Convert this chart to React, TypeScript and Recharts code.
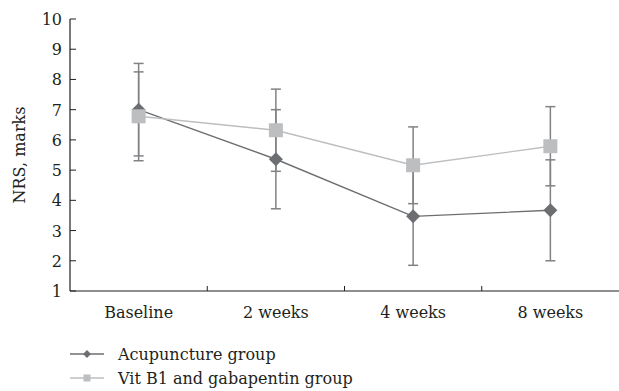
import { LineChart, Line, XAxis, YAxis, ErrorBar, Legend, Label } from "recharts";

const categories = ["Baseline", "2 weeks", "4 weeks", "8 weeks"];
const acupuncture = [7.0, 5.36, 3.47, 3.67];
const acupunctureSd = [1.53, 1.64, 1.62, 1.67];
const vitB1 = [6.78, 6.32, 5.16, 5.79];
const vitB1Sd = [1.47, 1.36, 1.27, 1.31];
const yTicks = [1, 2, 3, 4, 5, 6, 7, 8, 9, 10];
const xTicks = [0.5, 1, 1.5, 2, 2.5, 3, 3.5];

const FONT = "'DejaVu Serif', serif";
const INK = "#231f20";
const DARK = "#6d6e71";
const LIGHT = "#bcbec0";
const BAR = "#808285";

const data = categories.map((name, i) => ({
  x: i + 0.5,
  name,
  acu: acupuncture[i],
  acuErr: acupunctureSd[i],
  vit: vitB1[i],
  vitErr: vitB1Sd[i],
}));

const diamond = (cx: number, cy: number, r: number, fill: string, key?: any) => (
  <polygon key={key} points={`${cx},${cy - r} ${cx + r},${cy} ${cx},${cy + r} ${cx - r},${cy}`} fill={fill} />
);

const square = (cx: number, cy: number, r: number, fill: string, key?: any) => (
  <rect key={key} x={cx - r} y={cy - r} width={r * 2} height={r * 2} fill={fill} />
);

const XTick = ({ x, y, payload }: any) => {
  const v = payload.value;
  if (Number.isInteger(v)) {
    return <line x1={x} x2={x} y1={y} y2={y - 5} stroke={INK} strokeWidth={1} />;
  }
  return (
    <text x={x} y={y + 27} textAnchor="middle" fontFamily={FONT} fontSize={16} fill={INK}>
      {categories[v - 0.5]}
    </text>
  );
};

const YTick = ({ x, y, payload }: any) => (
  <g>
    <line x1={x} x2={x + 6} y1={y} y2={y} stroke={INK} strokeWidth={1} />
    <text x={x - 8} y={y + 6} textAnchor="end" fontFamily={FONT} fontSize={16} fill={INK}>
      {payload.value}
    </text>
  </g>
);

const legendItems = [
  { label: "Acupuncture group", color: DARK, shape: "diamond" },
  { label: "Vit B1 and gabapentin group", color: LIGHT, shape: "square" },
];

const LegendContent = () => (
  <div style={{ paddingLeft: 70, paddingTop: 21 }}>
    {legendItems.map((it) => (
      <div key={it.label} style={{ display: "flex", alignItems: "center", height: 24 }}>
        <svg width={48} height={14}>
          <line x1={0} x2={34} y1={7} y2={7} stroke={it.color} strokeWidth={1.5} />
          {it.shape === "diamond" ? diamond(17, 7, 4, it.color) : square(17, 7, 3.5, it.color)}
        </svg>
        <span style={{ fontFamily: FONT, fontSize: 16, color: INK }}>{it.label}</span>
      </div>
    ))}
  </div>
);

export default function App() {
  return (
    <div style={{ position: "absolute", left: 0, top: 0, background: "#fff" }}>
      <LineChart width={619} height={391} data={data} margin={{ top: 19, right: 0, left: 0, bottom: 0 }}>
        <XAxis
          dataKey="x"
          type="number"
          domain={[0, 4]}
          ticks={xTicks}
          interval={0}
          tick={<XTick />}
          tickLine={false}
          tickSize={0}
          tickMargin={0}
          height={30}
          axisLine={{ stroke: INK, strokeWidth: 1.2 }}
        />
        <YAxis
          type="number"
          domain={[1, 10]}
          ticks={yTicks}
          interval={0}
          width={70}
          tick={<YTick />}
          tickLine={false}
          tickSize={0}
          tickMargin={0}
          axisLine={{ stroke: INK, strokeWidth: 1.2 }}
        >
          <Label
            content={({ viewBox }: any) => {
              const cy = viewBox.y + viewBox.height / 2;
              const cx = viewBox.x + 19;
              return (
                <text
                  x={cx}
                  y={cy}
                  transform={`rotate(-90 ${cx} ${cy})`}
                  textAnchor="middle"
                  dominantBaseline="central"
                  fontFamily={FONT}
                  fontSize={16}
                  fill={INK}
                >
                  NRS, marks
                </text>
              );
            }}
          />
        </YAxis>
        <Legend verticalAlign="bottom" height={70} content={<LegendContent />} />
        <Line
          dataKey="acu"
          stroke={DARK}
          strokeWidth={1.4}
          dot={(p: any) => diamond(p.cx, p.cy, 7, DARK, p.index)}
          activeDot={false}
          isAnimationActive={false}
        >
          <ErrorBar dataKey="acuErr" width={5} stroke={BAR} strokeWidth={1.5} />
        </Line>
        <Line
          dataKey="vit"
          stroke={LIGHT}
          strokeWidth={1.4}
          dot={(p: any) => square(p.cx, p.cy, 7, LIGHT, p.index)}
          activeDot={false}
          isAnimationActive={false}
        >
          <ErrorBar dataKey="vitErr" width={5} stroke={BAR} strokeWidth={1.5} />
        </Line>
      </LineChart>
    </div>
  );
}
